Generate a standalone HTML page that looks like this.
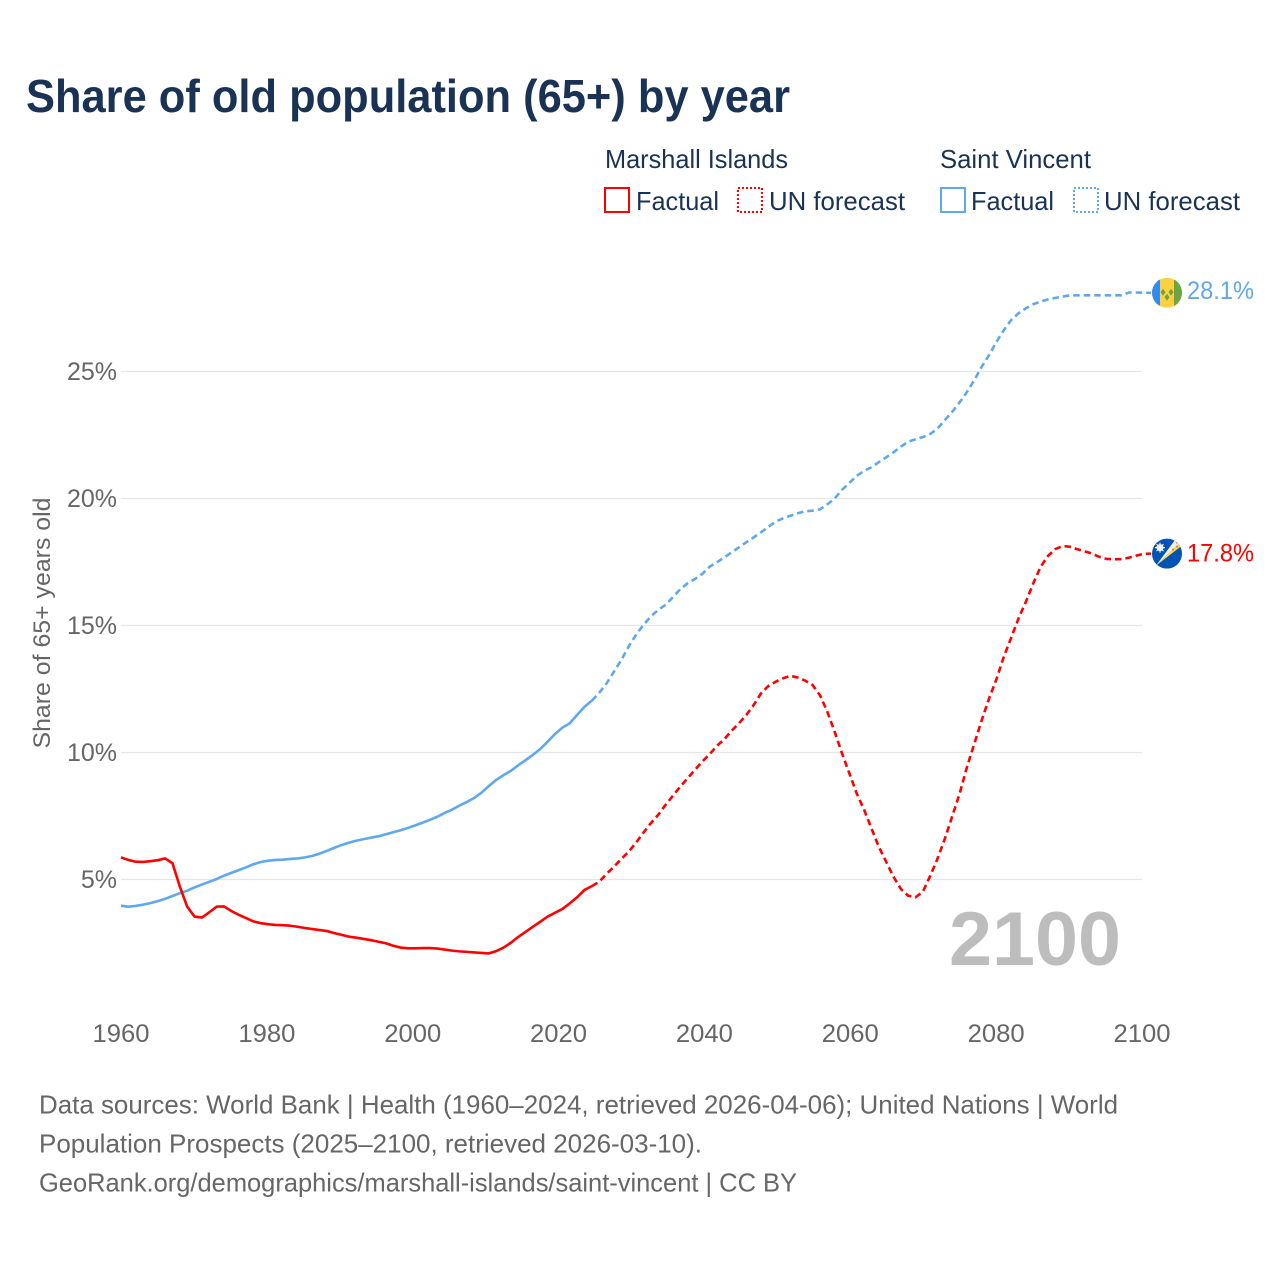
<!DOCTYPE html>
<html lang="en">
<head>
<meta charset="utf-8">
<title>Share of old population (65+) by year</title>
<style>
html,body{margin:0;padding:0;background:#fff;width:1280px;height:1280px;overflow:hidden}
svg{display:block}
text{font-family:"Liberation Sans",sans-serif}
</style>
</head>
<body>
<svg id="chart" xmlns="http://www.w3.org/2000/svg" width="1280" height="1280" viewBox="0 0 1280 1280">
  <defs>
    <clipPath id="flag-clip"><circle cx="0" cy="0" r="15"/></clipPath>
  </defs>
  <text x="26" y="112" font-size="46" font-weight="700" fill="#1a3354" textLength="764" lengthAdjust="spacingAndGlyphs">Share of old population (65+) by year</text>

  <g font-size="26" fill="#1a3354">
    <text x="605" y="168" textLength="183" lengthAdjust="spacingAndGlyphs">Marshall Islands</text>
    <rect x="605" y="188" width="24" height="24" fill="none" stroke="#ff0000" stroke-width="2"/>
    <text x="636" y="210" textLength="83" lengthAdjust="spacingAndGlyphs">Factual</text>
    <rect x="738" y="188" width="24" height="24" fill="none" stroke="#ff0000" stroke-width="2" stroke-dasharray="2 2"/>
    <text x="769" y="210" textLength="136" lengthAdjust="spacingAndGlyphs">UN forecast</text>
    <text x="940" y="168" textLength="151" lengthAdjust="spacingAndGlyphs">Saint Vincent</text>
    <rect x="941" y="188" width="24" height="24" fill="none" stroke="#5fa8ee" stroke-width="2"/>
    <text x="971" y="210" textLength="83" lengthAdjust="spacingAndGlyphs">Factual</text>
    <rect x="1074" y="188" width="24" height="24" fill="none" stroke="#5fa8ee" stroke-width="2" stroke-dasharray="2 2"/>
    <text x="1104" y="210" textLength="136" lengthAdjust="spacingAndGlyphs">UN forecast</text>
  </g>

  <g id="grid"></g>
  <g id="y-axis"></g>
  <g id="x-axis"></g>
  <text transform="translate(50,623) rotate(-90)" text-anchor="middle" font-size="24" fill="#666666" textLength="251" lengthAdjust="spacingAndGlyphs">Share of 65+ years old</text>

  <text x="949" y="965" font-size="76" font-weight="700" fill="#bdbdbd" textLength="172" lengthAdjust="spacingAndGlyphs">2100</text>

  <g id="series"></g>

  <g id="flag-saint-vincent">
    <g clip-path="url(#flag-clip)">
      <rect x="-15" y="-15" width="30" height="30" fill="#ffd03f"/>
      <rect x="-15" y="-15" width="8" height="30" fill="#338af3"/>
      <rect x="7" y="-15" width="8" height="30" fill="#6da544"/>
      <polygon points="-4,-4 -1.5,-0.5 -4,3 -6.5,-0.5" fill="#6da544"/>
      <polygon points="4,-4 6.5,-0.5 4,3 1.5,-0.5" fill="#6da544"/>
      <polygon points="0,1 2.5,4.5 0,8 -2.5,4.5" fill="#6da544"/>
    </g>
  </g>
  <g id="flag-marshall-islands">
    <g clip-path="url(#flag-clip)">
      <rect x="-15" y="-15" width="30" height="30" fill="#0052b4"/>
      <polygon points="-11,12 15,-13 15,-8" fill="#ffda44"/>
      <polygon points="-11,12 15,-13 9,-15" fill="#f0f0f0"/>
      <circle cx="10" cy="-7" r="1" fill="#e8743b"/>
      <circle cx="6" cy="-4" r="1" fill="#e8743b"/>
      <circle cx="10" cy="-11" r="1" fill="#e8743b"/>
      <circle cx="-7" cy="-6" r="3.5" fill="#f0f0f0"/>
      <path d="M-7,-11V-1M-12,-6H-2M-10.5,-9.5L-3.5,-2.5M-10.5,-2.5L-3.5,-9.5" stroke="#f0f0f0" stroke-width="1.2"/>
    </g>
  </g>

  <g id="value-labels"></g>

  <g font-size="26" fill="#666666">
    <text x="39" y="1113.5" textLength="1079" lengthAdjust="spacingAndGlyphs">Data sources: World Bank | Health (1960–2024, retrieved 2026-04-06); United Nations | World</text>
    <text x="39" y="1152.5" textLength="663" lengthAdjust="spacingAndGlyphs">Population Prospects (2025–2100, retrieved 2026-03-10).</text>
    <text x="39" y="1191.5" textLength="758" lengthAdjust="spacingAndGlyphs">GeoRank.org/demographics/marshall-islands/saint-vincent | CC BY</text>
  </g>
</svg>
<script>
const xTicks = [1960, 1980, 2000, 2020, 2040, 2060, 2080, 2100];
const yTicks = [5, 10, 15, 20, 25];
const factualStartYear = 1960;
const forecastStartYear = 2024;
const marshallFactual = [
  5.87,5.77,5.70,5.69,5.72,5.76,5.83,5.64,4.72,3.93,
  3.54,3.50,3.71,3.93,3.94,3.76,3.61,3.48,3.35,3.28,
  3.24,3.21,3.20,3.18,3.14,3.09,3.05,3.01,2.97,2.89,
  2.82,2.75,2.71,2.66,2.61,2.55,2.49,2.39,2.32,2.29,
  2.29,2.30,2.30,2.28,2.24,2.20,2.17,2.15,2.13,2.11,
  2.09,2.18,2.32,2.51,2.74,2.94,3.14,3.34,3.54,3.69,
  3.84,4.06,4.30,4.59,4.74
];
const marshallForecast = [
  4.74,4.91,5.22,5.50,5.81,6.09,
  6.45,6.84,7.21,7.54,7.93,8.29,8.65,8.98,9.31,9.64,
  9.93,10.26,10.52,10.86,11.15,11.48,11.87,12.33,12.62,12.79,
  12.92,13.02,12.95,12.83,12.66,12.26,11.61,10.82,9.97,9.18,
  8.39,7.75,7.02,6.29,5.70,5.11,4.63,4.36,4.30,4.52,
  5.15,5.83,6.62,7.50,8.39,9.44,10.36,11.28,12.13,12.89,
  13.77,14.52,15.28,15.94,16.66,17.31,17.74,18.01,18.13,18.10,
  18.00,17.92,17.83,17.70,17.62,17.61,17.61,17.67,17.75,17.82,
  17.83
];
const vincentFactual = [
  3.97,3.93,3.96,4.01,4.07,4.15,4.24,4.35,4.46,4.56,
  4.69,4.80,4.91,5.02,5.15,5.26,5.37,5.48,5.60,5.69,
  5.74,5.77,5.78,5.81,5.83,5.87,5.93,6.02,6.13,6.25,
  6.36,6.45,6.53,6.59,6.65,6.70,6.78,6.86,6.94,7.03,
  7.13,7.24,7.35,7.47,7.62,7.75,7.91,8.05,8.21,8.42,
  8.68,8.92,9.11,9.28,9.50,9.70,9.91,10.14,10.43,10.73,
  10.98,11.15,11.48,11.80,12.04
];
const vincentForecast = [
  12.04,12.35,12.72,13.18,13.64,14.17,
  14.63,15.02,15.35,15.61,15.81,16.11,16.42,16.66,16.83,17.03,
  17.31,17.49,17.68,17.88,18.08,18.28,18.47,18.67,18.89,19.09,
  19.22,19.32,19.42,19.50,19.52,19.57,19.77,20.00,20.34,20.61,
  20.89,21.09,21.23,21.43,21.62,21.82,22.04,22.24,22.33,22.42,
  22.54,22.76,23.09,23.42,23.79,24.20,24.67,25.19,25.65,26.17,
  26.63,27.03,27.29,27.49,27.65,27.75,27.84,27.90,27.95,28.00,
  28.00,28.00,28.00,28.00,28.00,28.00,28.00,28.11,28.11,28.10,
  28.10
];
const endLabels = ['28.1%', '17.8%'];

const NS = 'http://www.w3.org/2000/svg';
const RED = '#ff0000';
const BLUE = '#5fa8ee';

function xLine(year) { return 121 + (year - 1960) * (1030 / 140); }
function xTick(year) { return 121 + (year - 1960) * (1021 / 140); }
function yScale(v) { return 879.5 - (v - 5) * 25.4; }

function make(tag, parent, attrs) {
  const el = document.createElementNS(NS, tag);
  for (const k in attrs) el.setAttribute(k, attrs[k]);
  document.getElementById(parent).appendChild(el);
  return el;
}

yTicks.forEach(function (t) {
  const y = yScale(t);
  const line = make('line', 'grid', { x1: 121, x2: 1142, y1: y, y2: y, stroke: '#e6e6e6', 'stroke-width': 1.2 });
  
  
  const label = make('text', 'y-axis', { x: 117, y: y + 8.5, 'text-anchor': 'end', 'font-size': 25, fill: '#666666' });
  
  
  label.textContent = t + '%';
});

xTicks.forEach(function (t) {
  const label = make('text', 'x-axis', { x: xTick(t), y: 1042, 'text-anchor': 'middle', 'font-size': 25, fill: '#666666', textLength: 57, lengthAdjust: 'spacingAndGlyphs' });
  
  
  label.textContent = t;
});

function linePath(values, startYear) {
  return values.map(function (v, i) {
    return (i ? 'L' : 'M') + xLine(startYear + i).toFixed(2) + ',' + yScale(v).toFixed(2);
  }).join('');
}

const lineVincentFactual = make('path', 'series', { d: linePath(vincentFactual, factualStartYear), fill: 'none', stroke: BLUE, 'stroke-width': 2.6, 'stroke-linejoin': 'round' });



const lineVincentForecast = make('path', 'series', { d: linePath(vincentForecast, forecastStartYear), fill: 'none', stroke: BLUE, 'stroke-width': 2.6, 'stroke-dasharray': '6.5 4' });



const lineMarshallFactual = make('path', 'series', { d: linePath(marshallFactual, factualStartYear), fill: 'none', stroke: RED, 'stroke-width': 2.6, 'stroke-linejoin': 'round' });



const lineMarshallForecast = make('path', 'series', { d: linePath(marshallForecast, forecastStartYear), fill: 'none', stroke: RED, 'stroke-width': 2.6, 'stroke-dasharray': '6.5 4' });



const lastVincent = vincentForecast[vincentForecast.length - 1];
const lastMarshall = marshallForecast[marshallForecast.length - 1];
document.getElementById('flag-saint-vincent').setAttribute('transform', 'translate(' + (xLine(2100) + 16) + ',' + yScale(lastVincent) + ')');
document.getElementById('flag-marshall-islands').setAttribute('transform', 'translate(' + (xLine(2100) + 16) + ',' + yScale(lastMarshall) + ')');

const labelVincent = make('text', 'value-labels', { x: 1187, y: yScale(lastVincent) + 6, 'font-size': 25, fill: BLUE, textLength: 67, lengthAdjust: 'spacingAndGlyphs' });


labelVincent.textContent = endLabels[0];

const labelMarshall = make('text', 'value-labels', { x: 1187, y: yScale(lastMarshall) + 8, 'font-size': 25, fill: RED, textLength: 67, lengthAdjust: 'spacingAndGlyphs' });


labelMarshall.textContent = endLabels[1];
</script>
</body>
</html>
